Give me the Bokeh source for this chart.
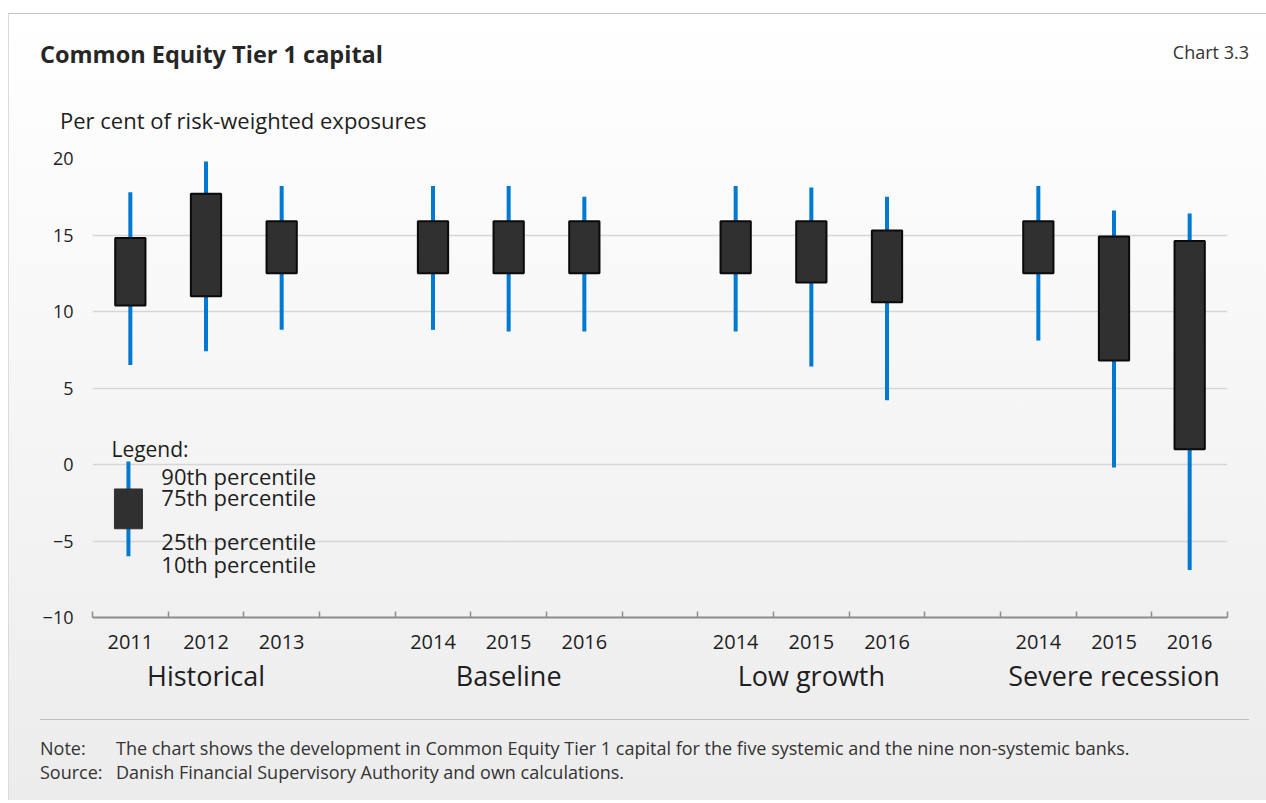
from bokeh.plotting import figure
from bokeh.models import Range1d, FixedTicker, LinearAxis, Label, Div
from bokeh.layouts import column
from bokeh.embed import file_html
from bokeh.resources import INLINE

# ---------------- data ----------------
groups = ["Historical", "Baseline", "Low growth", "Severe recession"]
years = ["2011", "2012", "2013",
         "2014", "2015", "2016",
         "2014", "2015", "2016",
         "2014", "2015", "2016"]
p10 = [6.5, 7.4, 8.8, 8.8, 8.7, 8.7, 8.7, 6.4, 4.2, 8.1, -0.2, -6.9]
p25 = [10.4, 11.0, 12.5, 12.5, 12.5, 12.5, 12.5, 11.9, 10.6, 12.5, 6.8, 1.0]
p75 = [14.8, 17.7, 15.9, 15.9, 15.9, 15.9, 15.9, 15.9, 15.3, 15.9, 14.9, 14.6]
p90 = [17.8, 19.8, 18.2, 18.2, 18.2, 17.5, 18.2, 18.1, 17.5, 18.2, 16.6, 16.4]
# legend sample box (90th, 75th, 25th, 10th)
legend_vals = [0.2, -1.6, -4.2, -6.0]
legend_labels = ["90th percentile", "75th percentile", "25th percentile", "10th percentile"]
y_ticks = [-10, -5, 0, 5, 10, 15, 20]

title = "Common Equity Tier 1 capital"
chart_no = "Chart 3.3"
y_label = "Per cent of risk-weighted exposures"
note = ("The chart shows the development in Common Equity Tier 1 capital for the five "
        "systemic and the nine non-systemic banks.")
source = "Danish Financial Supervisory Authority and own calculations."

# slot layout: 3 categories per group, one empty slot between groups
slots = [g * 4 + k for g in range(4) for k in range(3)]
xs = [2 * s + 1 for s in slots]
group_x = [2 * (g * 4 + 1) + 1 for g in range(4)]

FONT = "Open Sans"
TXT = "#1e1e1e"

p = figure(width=1257, height=560, x_range=Range1d(0, 30), y_range=Range1d(-10, 20),
           output_backend="svg", toolbar_location=None,
           min_border_left=83, min_border_right=39, min_border_top=18, min_border_bottom=83,
           border_fill_color=None, background_fill_color=None, outline_line_color=None)

# y axis
p.yaxis.ticker = FixedTicker(ticks=y_ticks)
p.yaxis.axis_line_color = None
p.yaxis.major_tick_line_color = None
p.yaxis.major_tick_out = 0
p.yaxis.major_tick_in = 0
p.yaxis.minor_tick_line_color = None
p.yaxis.minor_tick_out = 0
p.yaxis.major_label_text_font = FONT
p.yaxis.major_label_text_font_size = "18px"
p.yaxis.major_label_text_color = TXT
p.yaxis.major_label_standoff = 19
p.ygrid.ticker = FixedTicker(ticks=y_ticks)
p.ygrid.grid_line_color = "#d6d6d6"
p.ygrid.grid_line_width = 1.5
p.xgrid.grid_line_color = None

# x axis: year labels at slot centres, boundary ticks as minor ticks
xa = p.xaxis[0]
xa.ticker = FixedTicker(ticks=xs, minor_ticks=list(range(0, 31, 2)))
xa.major_label_overrides = {x: y for x, y in zip(xs, years)}
xa.major_tick_line_color = None
xa.major_tick_out = 0
xa.major_tick_in = 0
xa.minor_tick_in = 6
xa.minor_tick_out = 0
xa.minor_tick_line_color = "#8c8c8c"
xa.minor_tick_line_width = 1.5
xa.axis_line_color = "#8c8c8c"
xa.axis_line_width = 2
xa.major_label_text_font = FONT
xa.major_label_text_font_size = "20px"
xa.major_label_text_color = TXT
xa.major_label_standoff = 17

ga = LinearAxis(ticker=FixedTicker(ticks=group_x, minor_ticks=[]),
                major_label_overrides={x: g for x, g in zip(group_x, groups)},
                axis_line_color=None, major_tick_line_color=None, minor_tick_line_color=None,
                major_tick_out=0, major_tick_in=0, minor_tick_out=0, minor_tick_in=0,
                major_label_text_font=FONT, major_label_text_font_size="27px",
                major_label_text_color=TXT, major_label_standoff=5)
p.add_layout(ga, "below")

# whiskers and boxes
p.segment(x0=xs, y0=p10, x1=xs, y1=p90, line_color="#0079d2", line_width=4, line_cap="butt")
p.vbar(x=xs, width=0.8, top=p75, bottom=p25, fill_color="#303030",
       line_color="#0a0a0a", line_width=2)

# legend sample
lx = 0.95
p.segment(x0=[lx], y0=[legend_vals[3]], x1=[lx], y1=[legend_vals[0]],
          line_color="#0079d2", line_width=4, line_cap="butt")
p.vbar(x=[lx], width=0.74, top=[legend_vals[1]], bottom=[legend_vals[2]],
       fill_color="#303030", line_color="#303030", line_width=1)
p.add_layout(Label(x=0.5, y=1.0, text="Legend:", text_font=FONT, text_font_size="21px",
                   text_color=TXT, text_baseline="middle"))
for txt, yy in zip(legend_labels, [-0.75, -2.15, -5.0, -6.5]):
    p.add_layout(Label(x=1.82, y=yy, text=txt, text_font=FONT, text_font_size="22px",
                       text_color=TXT, text_baseline="middle"))

header_html = (
    "<div style=\"position:relative;width:1257px;height:126px;font-family:'Open Sans';\">"
    "<div style=\"position:absolute;left:31px;top:26px;line-height:28px;font-size:23.5px;"
    f"font-weight:bold;color:#262626;white-space:nowrap;\">{title}</div>"
    "<div style=\"position:absolute;right:17px;top:27px;line-height:22px;font-size:18px;"
    f"color:#333;white-space:nowrap;\">{chart_no}</div>"
    "<div style=\"position:absolute;left:51px;top:92px;line-height:28px;font-size:22px;"
    f"color:{TXT};white-space:nowrap;\">{y_label}</div>"
    "</div>"
)
header = Div(text=header_html, width=1257, height=126, margin=0)

footer_html = (
    "<div style=\"margin:19px 0 0 31px; width:1209px; border-top:1.5px solid #bdbdbd; "
    "padding-top:16px; font-family:'Open Sans'; font-size:18px; line-height:24px; color:#333;"
    "white-space:nowrap;\">"
    f"<div><span style=\"display:inline-block;width:76px\">Note:</span>{note}</div>"
    f"<div><span style=\"display:inline-block;width:76px\">Source:</span>{source}</div></div>"
)
footer = Div(text=footer_html, width=1257, height=100, margin=0)

layout = column(header, p, footer, margin=(13, 0, 0, 8),
                styles={"background": "linear-gradient(180deg, #ffffff 0%, #ececec 100%)",
                        "border-top": "1.5px solid #c4c4c4",
                        "border-left": "1px solid #dcdcdc"})

open("out.html", "w").write(file_html(layout, INLINE))
